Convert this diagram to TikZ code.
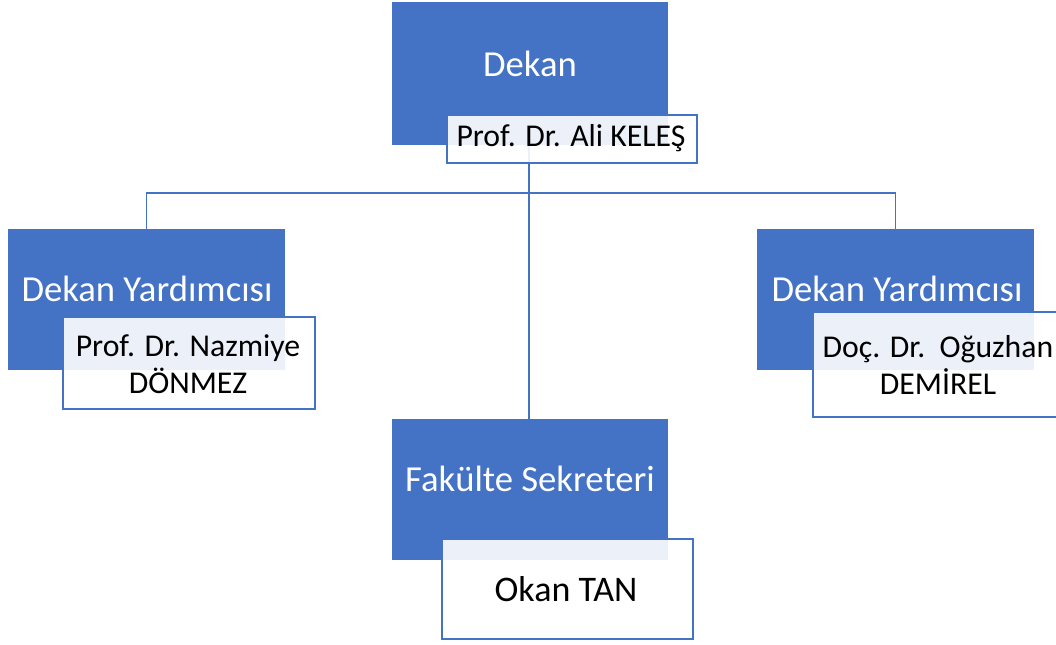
\documentclass[tikz,border=0pt]{standalone}
\usepackage{fontspec}
\setmainfont{Carlito}
\definecolor{accent}{HTML}{4472C4}
\begin{document}
\begin{tikzpicture}[x=0.75pt,y=-0.75pt,
  bluebox/.style={fill=accent, draw=none, inner sep=0pt},
  subbox/.style={fill=white, fill opacity=0.9, draw=accent, line width=1.1pt, inner sep=0pt},
  conn/.style={draw=accent, line width=1.2pt},
  titletext/.style={text=white, font=\fontsize{27.5}{31}\selectfont, inner sep=0pt},
  nametext/.style={text=black, font=\fontsize{23.8}{28}\selectfont, align=center, inner sep=0pt}]
\useasboundingbox (0,0) rectangle (1056,644);
\clip (0,0) rectangle (1056,644);
% blue boxes
\node[bluebox, minimum width=207pt, minimum height=107.25pt] (dekan) at (530,73.5) {};
\node[bluebox, minimum width=207.75pt, minimum height=105.75pt] (left) at (146.5,299.5) {};
\node[bluebox, minimum width=207.75pt, minimum height=105.75pt] (right) at (895.5,299.5) {};
\node[bluebox, minimum width=207pt, minimum height=105.75pt] (fak) at (530,489.5) {};
% connectors
\coordinate (jn) at (529,193);
\draw[conn] (dekan.south -| jn) -- (fak.north -| jn);
\draw[conn] (left.north) |- (jn) -| (right.north);
% sub boxes
\node[subbox, minimum width=187.5pt, minimum height=36pt] (dekansub) at (572,139) {};
\node[subbox, minimum width=189pt, minimum height=69pt] (leftsub) at (189,363) {};
\node[subbox, minimum width=189pt, minimum height=78.75pt] (rightsub) at (939,364.5) {};
\node[subbox, minimum width=188.25pt, minimum height=75pt] (faksub) at (567.5,589) {};
% titles
\node[titletext] (t1) at (530,64) {Dekan};
\node[titletext] (t2) at (147,289) {Dekan Yardımcısı};
\node[titletext] (t3) at (897,289) {Dekan Yardımcısı};
\node[titletext] (t4) at (530,479) {Fakülte Sekreteri};
% names
\node[nametext] (n1) at (571,138) {Prof. Dr. Ali KELEŞ};
\node[nametext] (n2) at (188,364) {Prof. Dr. Nazmiye\\DÖNMEZ};
\node[nametext] (n3) at (938,365) {Doç. Dr.\ \ Oğuzhan\\DEMİREL};
\node[nametext, font=\fontsize{27}{32}\selectfont] (n4) at (566,589) {Okan TAN};
\end{tikzpicture}
\end{document}
